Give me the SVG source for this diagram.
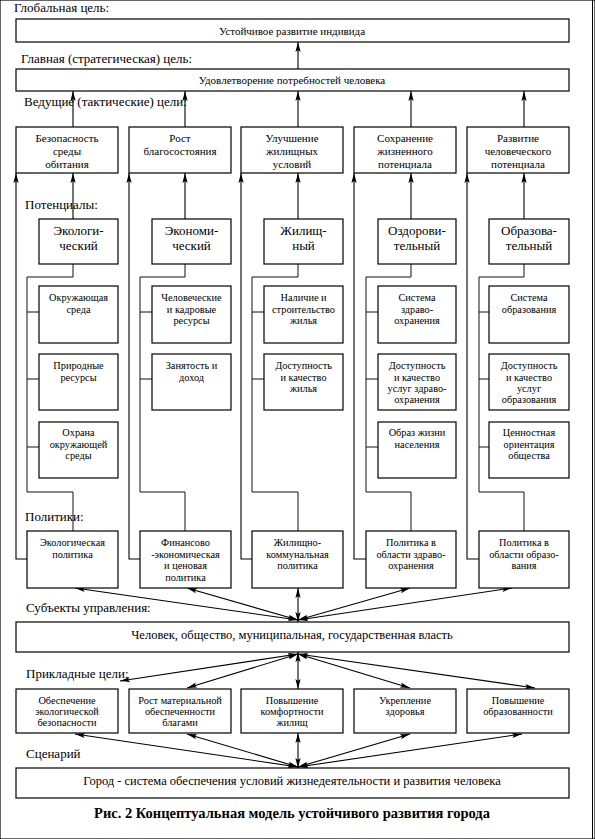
<svg xmlns="http://www.w3.org/2000/svg" width="595" height="839" viewBox="0 0 595 839">
<style>
text{font-family:"Liberation Serif","Times New Roman",serif;fill:#000}
.lbl{font-size:13px}
.big{font-size:12.5px;text-anchor:middle}
.t11{font-size:11px;text-anchor:middle}
.t10{font-size:10.3px;text-anchor:middle}
.pot{font-size:13px;text-anchor:middle}
.cap{font-size:14.5px;font-weight:bold;text-anchor:middle}
rect{fill:#fff;stroke:#000;stroke-width:1.2}
.ln{fill:none;stroke:#111;stroke-width:1}
.ar{fill:none;stroke:#000;stroke-width:1.1;marker-end:url(#ah)}
.da{fill:none;stroke:#000;stroke-width:1.1;marker-end:url(#ah);marker-start:url(#ah)}
</style>
<defs>
<marker id="ah" markerUnits="userSpaceOnUse" markerWidth="10" markerHeight="6" viewBox="0 0 10 6" refX="10" refY="3" orient="auto-start-reverse">
<path d="M0,0.4 L10,3 L0,5.6 L2,3 Z" fill="#000"/>
</marker>
</defs>
<rect width="595" height="839" fill="#fff" stroke="none"/>
<line x1="592.5" y1="0" x2="592.5" y2="839" stroke="#000" stroke-width="1"/>

<g id="labels">
<text class="lbl" x="14" y="12">Глобальная цель:</text>
<text class="lbl" x="21" y="63">Главная (стратегическая) цель:</text>
<text class="lbl" x="24" y="106">Ведущие (тактические) цели:</text>
<text class="lbl" x="25" y="209">Потенциалы:</text>
<text class="lbl" x="25" y="521">Политики:</text>
<text class="lbl" x="26" y="612">Субъекты управления:</text>
<text class="lbl" x="26" y="678">Прикладные цели:</text>
<text class="lbl" x="26" y="758">Сценарий</text>
</g>

<g id="connectors">
<line class="ar" x1="298" y1="69" x2="298" y2="42"/>
<line class="ar" x1="73" y1="127" x2="73" y2="91"/>
<line class="ar" x1="185" y1="127" x2="185" y2="91"/>
<line class="ar" x1="298" y1="127" x2="298" y2="91"/>
<line class="ar" x1="411" y1="127" x2="411" y2="91"/>
<line class="ar" x1="524" y1="127" x2="524" y2="91"/>
<!-- potentials to tactical -->
<line class="ar" x1="73" y1="219" x2="73" y2="173"/>
<line class="ar" x1="185" y1="219" x2="185" y2="173"/>
<line class="ar" x1="298" y1="219" x2="298" y2="173"/>
<line class="ar" x1="411" y1="219" x2="411" y2="173"/>
<line class="ar" x1="524" y1="219" x2="524" y2="173"/>
<!-- policies to tactical (outer) -->
<polyline class="ar" points="27,559 16,559 16,173"/>
<polyline class="ar" points="140,559 129,559 129,173"/>
<polyline class="ar" points="252,559 241,559 241,173"/>
<polyline class="ar" points="366,559 354,559 354,173"/>
<polyline class="ar" points="479,559 467,559 467,173"/>
<!-- brackets -->
<polyline class="ln" points="73,264 73,277 27,277 27,492 73,492 73,531"/>
<polyline class="ln" points="185,264 185,277 140,277 140,492 185,492 185,531"/>
<polyline class="ln" points="298,264 298,277 252,277 252,492 298,492 298,531"/>
<polyline class="ln" points="411,264 411,277 366,277 366,492 411,492 411,531"/>
<polyline class="ln" points="524,264 524,277 479,277 479,492 524,492 524,531"/>
<path class="ln" d="M27,312H39M27,379H39M27,447H39M140,312H152M140,379H152M252,312H264M252,379H264M366,312H378M366,379H378M366,447H378M479,312H489M479,379H489M479,447H489"/>
<!-- subjects <-> policies -->
<line class="da" x1="298" y1="620" x2="75" y2="588"/>
<line class="da" x1="298" y1="620" x2="187" y2="588"/>
<line class="da" x1="298" y1="622" x2="298" y2="588"/>
<line class="da" x1="298" y1="620" x2="410" y2="588"/>
<line class="da" x1="298" y1="620" x2="512" y2="588"/>
<!-- subjects <-> applied -->
<line class="da" x1="298" y1="654" x2="120" y2="681"/>
<line class="da" x1="298" y1="654" x2="187" y2="688"/>
<line class="da" x1="298" y1="652" x2="298" y2="689"/>
<line class="da" x1="298" y1="654" x2="410" y2="688"/>
<line class="da" x1="298" y1="654" x2="535" y2="688"/>
<!-- applied <-> scenario -->
<line class="da" x1="298" y1="767" x2="75" y2="734"/>
<line class="da" x1="298" y1="767" x2="187" y2="734"/>
<line class="da" x1="298" y1="768" x2="298" y2="733"/>
<line class="da" x1="298" y1="767" x2="410" y2="734"/>
<line class="da" x1="298" y1="767" x2="522" y2="734"/>
</g>

<g id="global"><rect x="16" y="19" width="553" height="23"/><text class="t11" x="292" y="35">Устойчивое развитие индивида</text></g>
<g id="main"><rect x="16" y="69" width="553" height="22"/><text class="t11" x="292" y="84">Удовлетворение потребностей человека</text></g>

<g id="tac1"><rect x="16" y="127" width="102" height="46"/><text class="t11" x="67" y="142">Безопасность</text><text class="t11" x="67" y="155">среды</text><text class="t11" x="67" y="168">обитания</text></g>
<g id="tac2"><rect x="129" y="127" width="102" height="46"/><text class="t11" x="180" y="142">Рост</text><text class="t11" x="180" y="155">благосостояния</text></g>
<g id="tac3"><rect x="241" y="127" width="102" height="46"/><text class="t11" x="292" y="142">Улучшение</text><text class="t11" x="292" y="155">жилищных</text><text class="t11" x="292" y="168">условий</text></g>
<g id="tac4"><rect x="354" y="127" width="102" height="46"/><text class="t11" x="405" y="142">Сохранение</text><text class="t11" x="405" y="155">жизненного</text><text class="t11" x="405" y="168">потенциала</text></g>
<g id="tac5"><rect x="467" y="127" width="102" height="46"/><text class="t11" x="518" y="142">Развитие</text><text class="t11" x="518" y="155">человеческого</text><text class="t11" x="518" y="168">потенциала</text></g>

<g id="pot1"><rect x="39" y="219" width="79" height="45"/><text class="pot" x="78.5" y="235">Экологи-</text><text class="pot" x="78.5" y="250">ческий</text></g>
<g id="pot2"><rect x="152" y="219" width="79" height="45"/><text class="pot" x="191.5" y="235">Экономи-</text><text class="pot" x="191.5" y="250">ческий</text></g>
<g id="pot3"><rect x="264" y="219" width="79" height="45"/><text class="pot" x="303.5" y="235">Жилищ-</text><text class="pot" x="303.5" y="250">ный</text></g>
<g id="pot4"><rect x="378" y="219" width="78" height="45"/><text class="pot" x="417" y="235">Оздорови-</text><text class="pot" x="417" y="250">тельный</text></g>
<g id="pot5"><rect x="489" y="219" width="80" height="45"/><text class="pot" x="529" y="235">Образова-</text><text class="pot" x="529" y="250">тельный</text></g>

<g id="sub1a"><rect x="39" y="286" width="79" height="57"/><text class="t10" x="78.5" y="301">Окружающая</text><text class="t10" x="78.5" y="312.5">среда</text></g>
<g id="sub1b"><rect x="39" y="354" width="79" height="56"/><text class="t10" x="78.5" y="369">Природные</text><text class="t10" x="78.5" y="380.5">ресурсы</text></g>
<g id="sub1c"><rect x="39" y="422" width="79" height="56"/><text class="t10" x="78.5" y="436">Охрана</text><text class="t10" x="78.5" y="447.5">окружающей</text><text class="t10" x="78.5" y="459">среды</text></g>
<g id="sub2a"><rect x="152" y="286" width="79" height="57"/><text class="t10" x="191.5" y="301">Человеческие</text><text class="t10" x="191.5" y="312.5">и кадровые</text><text class="t10" x="191.5" y="324">ресурсы</text></g>
<g id="sub2b"><rect x="152" y="354" width="79" height="56"/><text class="t10" x="191.5" y="369">Занятость и</text><text class="t10" x="191.5" y="380.5">доход</text></g>
<g id="sub3a"><rect x="264" y="286" width="79" height="57"/><text class="t10" x="303.5" y="301">Наличие и</text><text class="t10" x="303.5" y="312.5">строительство</text><text class="t10" x="303.5" y="324">жилья</text></g>
<g id="sub3b"><rect x="264" y="354" width="79" height="56"/><text class="t10" x="303.5" y="369">Доступность</text><text class="t10" x="303.5" y="380.5">и качество</text><text class="t10" x="303.5" y="392">жилья</text></g>
<g id="sub4a"><rect x="378" y="286" width="78" height="57"/><text class="t10" x="417" y="301">Система</text><text class="t10" x="417" y="312.5">здраво-</text><text class="t10" x="417" y="324">охранения</text></g>
<g id="sub4b"><rect x="378" y="354" width="78" height="56"/><text class="t10" x="417" y="369">Доступность</text><text class="t10" x="417" y="380.5">и качество</text><text class="t10" x="417" y="392">услуг здраво-</text><text class="t10" x="417" y="403">охранения</text></g>
<g id="sub4c"><rect x="378" y="422" width="78" height="56"/><text class="t10" x="417" y="436">Образ жизни</text><text class="t10" x="417" y="447.5">населения</text></g>
<g id="sub5a"><rect x="489" y="286" width="80" height="57"/><text class="t10" x="529" y="301">Система</text><text class="t10" x="529" y="312.5">образования</text></g>
<g id="sub5b"><rect x="489" y="354" width="80" height="56"/><text class="t10" x="529" y="369">Доступность</text><text class="t10" x="529" y="380.5">и качество</text><text class="t10" x="529" y="392">услуг</text><text class="t10" x="529" y="403">образования</text></g>
<g id="sub5c"><rect x="489" y="422" width="80" height="56"/><text class="t10" x="529" y="436">Ценностная</text><text class="t10" x="529" y="447.5">ориентация</text><text class="t10" x="529" y="459">общества</text></g>

<g id="pol1"><rect x="27" y="531" width="91" height="57"/><text class="t10" x="72.5" y="546">Экологическая</text><text class="t10" x="72.5" y="557.5">политика</text></g>
<g id="pol2"><rect x="140" y="531" width="91" height="57"/><text class="t10" x="185.5" y="546">Финансово</text><text class="t10" x="185.5" y="557.5">-экономическая</text><text class="t10" x="185.5" y="569">и ценовая</text><text class="t10" x="185.5" y="581">политика</text></g>
<g id="pol3"><rect x="252" y="531" width="91" height="57"/><text class="t10" x="297.5" y="546">Жилищно-</text><text class="t10" x="297.5" y="557.5">коммунальная</text><text class="t10" x="297.5" y="569">политика</text></g>
<g id="pol4"><rect x="366" y="531" width="90" height="57"/><text class="t10" x="411" y="546">Политика в</text><text class="t10" x="411" y="557.5">области здраво-</text><text class="t10" x="411" y="569">охранения</text></g>
<g id="pol5"><rect x="479" y="531" width="90" height="57"/><text class="t10" x="524" y="546">Политика в</text><text class="t10" x="524" y="557.5">области образо-</text><text class="t10" x="524" y="569">вания</text></g>

<g id="subjects"><rect x="16" y="622" width="553" height="30"/><text class="big" x="292" y="639">Человек, общество, муниципальная, государственная власть</text></g>

<g id="app1"><rect x="16" y="689" width="102" height="44"/><text class="t10" x="67" y="704">Обеспечение</text><text class="t10" x="67" y="715">экологической</text><text class="t10" x="67" y="726">безопасности</text></g>
<g id="app2"><rect x="129" y="689" width="102" height="44"/><text class="t10" x="180" y="704">Рост материальной</text><text class="t10" x="180" y="715">обеспеченности</text><text class="t10" x="180" y="726">благами</text></g>
<g id="app3"><rect x="241" y="689" width="102" height="44"/><text class="t10" x="292" y="704">Повышение</text><text class="t10" x="292" y="715">комфортности</text><text class="t10" x="292" y="726">жилищ</text></g>
<g id="app4"><rect x="354" y="689" width="102" height="44"/><text class="t10" x="405" y="704">Укрепление</text><text class="t10" x="405" y="715">здоровья</text></g>
<g id="app5"><rect x="467" y="689" width="102" height="44"/><text class="t10" x="518" y="704">Повышение</text><text class="t10" x="518" y="715">образованности</text></g>

<g id="scenario"><rect x="16" y="768" width="553" height="30"/><text class="big" x="292" y="785">Город - система обеспечения условий жизнедеятельности и развития человека</text></g>

<text class="cap" x="292" y="818">Рис. 2 Концептуальная модель устойчивого развития города</text>
</svg>
